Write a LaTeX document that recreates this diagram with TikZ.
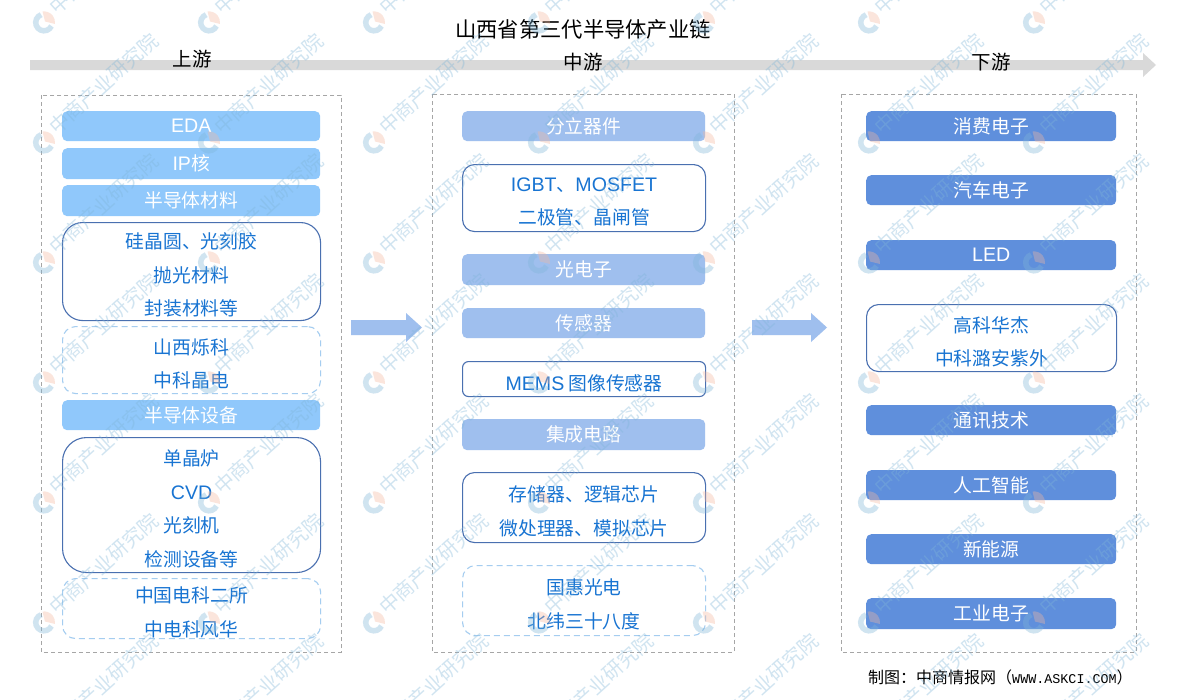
\documentclass[tikz,border=0pt]{standalone}
\usepackage{fontspec}
\setmainfont{Noto Sans CJK SC}
\newfontfamily\latinmono{Liberation Mono}
\newfontfamily\latinsans{Liberation Sans}
\newcommand{\lat}[1]{{\latinsans\fontsize{19.6}{33.5}\selectfont #1}}
\definecolor{upfill}{HTML}{90C8FB}
\definecolor{midfill}{HTML}{9FBFEE}
\definecolor{downfill}{HTML}{5F8FDC}
\definecolor{outlineblue}{HTML}{4A70B0}
\definecolor{softdash}{HTML}{A5CDF0}
\definecolor{textblue}{HTML}{1874D2}
\definecolor{bandgray}{HTML}{D9D9D9}
\definecolor{framegray}{HTML}{A6A6A6}
\definecolor{arrowblue}{HTML}{9FBFEE}
\definecolor{markblue}{HTML}{7FB5D8}
\definecolor{markorange}{HTML}{F0A080}
\tikzset{
  base/.style={rounded corners=#1,inner sep=0pt,align=center,anchor=north west,
    font=\fontsize{18.8}{33.5}\selectfont},
  base/.default=5pt,
  solidbox/.style={base,fill=#1,text=white},
  linebox/.style={base=#1,draw=outlineblue,line width=1.1pt},
  softbox/.style={base=13pt,draw=softdash,line width=1.1pt,dash pattern=on 6pt off 4pt},
  boxtext/.style={inner sep=0pt,align=center,text=textblue,font=\fontsize{18.8}{33.5}\selectfont},
  frame/.style={draw=framegray,line width=.9pt,dash pattern=on 4pt off 3pt},
  heading/.style={inner sep=0pt,text=black,font=\fontsize{19.5}{24}\selectfont},
  blockarrow/.style={fill=arrowblue,draw=none},
  marktext/.style={inner sep=0pt,rotate=42,text=markblue,opacity=.36,font=\fontsize{19.8}{24}\selectfont},
}
% filled box with its text: name, style, x1, y1, x2, y2, text
\newcommand{\bx}[7]{\node[#2,minimum width=#5pt-#3pt,minimum height=#6pt-#4pt] (#1) at (#3,#4) {#7};}
% outlined box, text sits a little below its centre
\newcommand{\bl}[7]{\node[#2,minimum width=#5pt-#3pt,minimum height=#6pt-#4pt] (#1) at (#3,#4) {};
  \node[boxtext] (#1t) at ([yshift=-3.8pt]#1.center) {#7};}
\begin{document}
\begin{tikzpicture}[x=1pt,y=-1pt]
\useasboundingbox (0,0) rectangle (1180,699);
\clip (0,0) rectangle (1180,699);
\fill[white] (0,0) rectangle (1180,699);
% timeline band
\fill[bandgray] (30,60) -- (1143,60) -- (1143,53) -- (1156,65) -- (1143,77) -- (1143,70) -- (30,70) -- cycle;
\node[heading,font=\fontsize{21.3}{24}\selectfont] (title) at (583,29) {山西省第三代半导体产业链};
\node[heading] (up) at (192,59) {上游};
\node[heading] (mid) at (583,62) {中游};
\node[heading] (down) at (991,62) {下游};
% frames
\draw[frame] (41,95) rectangle (341,652);
\draw[frame] (432,94) rectangle (734,652);
\draw[frame] (841,94) rectangle (1136,652);
% upstream
\bx{a1}{solidbox=upfill}{62}{111}{320}{141}{\lat{EDA}}
\bx{a2}{solidbox=upfill}{62}{148}{320}{179}{\lat{IP}核}
\bx{a3}{solidbox=upfill}{62}{185}{320}{216}{半导体材料}
\bl{a4}{linebox=20pt}{62}{222}{320}{320}{硅晶圆、光刻胶\\抛光材料\\封装材料等}
\bl{a5}{softbox}{62}{326}{320}{393}{山西烁科\\中科晶电}
\bx{a6}{solidbox=upfill}{62}{400}{320}{430}{半导体设备}
\bl{a7}{linebox=24pt}{62}{437}{320}{572}{单晶炉\\\lat{CVD}\\光刻机\\检测设备等}
\bl{a8}{softbox}{62}{578}{320}{638}{中国电科二所\\中电科风华}
% midstream
\bx{b1}{solidbox=midfill}{462}{111}{705}{141}{分立器件}
\bl{b2}{linebox=12pt}{462}{164}{705}{231}{\lat{IGBT}、\lat{MOSFET}\\二极管、晶闸管}
\bx{b3}{solidbox=midfill}{462}{254}{705}{285}{光电子}
\bx{b4}{solidbox=midfill}{462}{308}{705}{338}{传感器}
\bl{b5}{linebox=6pt}{462}{361}{705}{396}{\lat{MEMS} 图像传感器}
\bx{b6}{solidbox=midfill}{462}{419}{705}{450}{集成电路}
\bl{b7}{linebox=12pt}{462}{472}{705}{542}{存储器、逻辑芯片\\微处理器、模拟芯片}
\bl{b8}{softbox}{462}{565}{705}{635}{国惠光电\\北纬三十八度}
% downstream
\bx{c1}{solidbox=downfill}{866}{111}{1116}{141}{消费电子}
\bx{c2}{solidbox=downfill}{866}{175}{1116}{205}{汽车电子}
\bx{c3}{solidbox=downfill}{866}{240}{1116}{270}{\lat{LED}}
\bl{c4}{linebox=12pt}{866}{304}{1116}{371}{高科华杰\\中科潞安紫外}
\bx{c5}{solidbox=downfill}{866}{405}{1116}{435}{通讯技术}
\bx{c6}{solidbox=downfill}{866}{470}{1116}{500}{人工智能}
\bx{c7}{solidbox=downfill}{866}{534}{1116}{564}{新能源}
\bx{c8}{solidbox=downfill}{866}{598}{1116}{629}{工业电子}
% flow arrows
\fill[blockarrow] (351,320) -- (406,320) -- (406,313) -- (422,327.5) -- (406,342) -- (406,335) -- (351,335) -- cycle;
\fill[blockarrow] (752,320) -- (811,320) -- (811,313) -- (827,327.5) -- (811,342) -- (811,335) -- (752,335) -- cycle;
% source line
\node[inner sep=0pt,anchor=west,text=black,font=\fontsize{16}{20}\selectfont] (src) at (868,677) {制图：中商情报网（{\latinmono\fontsize{13.4}{20}\selectfont WWW.ASKCI.COM}）};
% watermark grid
\foreach \mx in {44,209,374,539,704,869,1034}{
  \foreach \my in {22.5,142.5,262.5,382.5,502.5,622.5,742.5}{
    \begin{scope}[shift={(\mx,\my)},opacity=.36]
      \draw[markblue,line width=5.5pt] (-110:8.3) arc[start angle=-110,end angle=-335,radius=8.3];
      \fill[markorange!75] (-1.5,-11) arc[start angle=-98,end angle=8,radius=11] -- (1,-1) -- cycle;
    \end{scope}
    \node[marktext] (wm\mx x\my) at (\mx+59.5,\my-58.5) {中商产业研究院};
  }
}
\end{tikzpicture}
\end{document}
